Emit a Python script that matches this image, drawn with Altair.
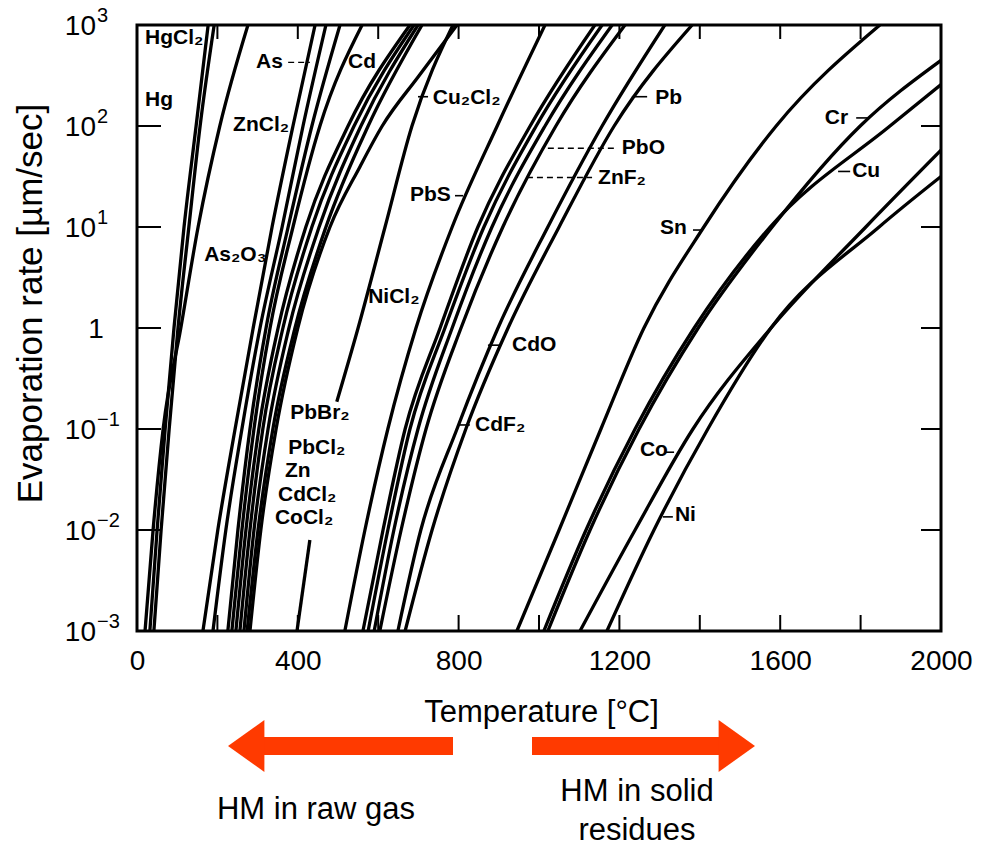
import altair as alt
import pandas as pd

# ---------------- data ----------------
# exponent of the evaporation rate (10^n µm/sec) at which the temperatures are read
LEVELS = [-3, -2, -1, 0, 1, 2, 3]

# temperatures [°C] at each decade level
HG_T = [32, 50, 70, 92, 117, 147, 177]
HGCL2_T = [42, 60, 80, 102, 129, 157, 192]
L3_T = [20, 40, 65, 109, 152, 206, 276]
AS2O3_T = [164, 201, 244, 289, 336, 388, 443]
ZNCL2_T = [189, 221, 261, 306, 361, 413, 470]
AS_T = [226, 251, 281, 321, 376, 435, 505]
CD_T = [236, 261, 291, 331, 388, 455, 560]
PBBR2_T = [246, 271, 303, 351, 420, 525, 679]
COCL2_T = [256, 281, 313, 363, 435, 540, 689]
PBCL2_T = [266, 291, 326, 378, 453, 557, 699]
CDCL2_T = [274, 301, 338, 393, 470, 575, 709]
PBS_T = [517, 567, 624, 694, 784, 896, 1015]
CU2CL2_T = [562, 612, 667, 754, 848, 978, 1139]
CDF2_T = [575, 624, 679, 766, 863, 993, 1157]
PBO_T = [590, 639, 699, 784, 883, 1015, 1182]
ZNF2_T = [604, 657, 719, 806, 910, 1042, 1214]
CDO_T = [649, 706, 796, 898, 1022, 1157, 1313]
PB_T = [667, 734, 818, 923, 1050, 1187, 1381]
SN_T = [945, 1050, 1154, 1261, 1410, 1590, 1848]

# Zn leaves the band and bends away at high rates
ZN_T = [281, 308, 346, 400, 480, 555, 610, 702, 796]
ZN_E = [-3, -2, -1, 0, 1, 1.6, 2, 2.5, 3]

# NiCl2 is interrupted behind the labels
NICL2_LO_T = [398, 430]
NICL2_LO_E = [-3, -2.1]
NICL2_HI_T = [497, 550, 617, 684, 786]
NICL2_HI_E = [-0.73, 0, 1, 2, 3]

# curves that leave the plot through the right edge (T = 2000 °C)
CR_T = [1022, 1127, 1249, 1396, 1580, 1799, 2000]
CR_E = [-3, -2, -1, 0, 1, 2, 2.65]
CU_T = [1012, 1117, 1239, 1386, 1575, 1873, 2000]
CU_E = [-3, -2, -1, 0, 1, 2, 2.41]
CO_T = [1102, 1239, 1383, 1577, 1813, 2000]
CO_E = [-3, -2, -1, 0, 1, 1.76]
NI_T = [1169, 1286, 1420, 1577, 1846, 2000]
NI_E = [-3, -2, -1, 0, 1, 1.50]

# curve labels: text, temperature, exponent of the rate
LABEL_TEXT = ["HgCl₂", "Hg", "As", "Cd", "ZnCl₂", "Cu₂Cl₂", "PbS", "As₂O₃", "NiCl₂",
              "Pb", "PbO", "ZnF₂", "Sn", "CdO", "CdF₂", "PbBr₂", "PbCl₂", "Zn",
              "CdCl₂", "CoCl₂", "Co", "Ni", "Cr", "Cu"]
LABEL_T = [20, 20, 296, 525, 239, 736, 679, 167, 575,
           1289, 1206, 1147, 1301, 933, 841, 381, 376, 368,
           351, 343, 1251, 1338, 1711, 1779]
LABEL_E = [2.87, 2.26, 2.63, 2.63, 2.01, 2.28, 1.32, 0.72, 0.31,
           2.28, 1.78, 1.49, 0.99, -0.17, -0.96, -0.84, -1.19, -1.42,
           -1.65, -1.88, -1.21, -1.85, 2.08, 1.55]

# short leader ticks next to labels
LEAD_T1 = [791, 699, 1231, 873, 803, 1789, 1744, 1308, 1316, 1383]
LEAD_T2 = [811, 724, 1269, 903, 828, 1818, 1774, 1333, 1336, 1408]
LEAD_E = [1.31, 2.29, 2.29, -0.17, -0.96, 2.08, 1.55, -1.87, -1.23, 0.97]
# dashed leaders (As, PbO, ZnF2)
DASH_T1 = [376, 1022, 970]
DASH_T2 = [430, 1189, 1132]
DASH_E = [2.63, 1.78, 1.49]

X_TICKS = [0, 400, 800, 1200, 1600, 2000]
X_MINOR = [200, 400, 600, 800, 1000, 1200, 1400, 1600, 1800]
Y_INNER = [1e-2, 1e-1, 1, 10, 100]
# y tick labels written as 10 with a raised exponent
Y_EXP = [3, 2, 1, -1, -2, -3]
Y_EXP_TEXT = ["3", "2", "1", "−1", "−2", "−3"]

# ---------------- build tables ----------------
curves = [
    ("Hg", HG_T, LEVELS), ("HgCl2", HGCL2_T, LEVELS), ("L3", L3_T, LEVELS),
    ("As2O3", AS2O3_T, LEVELS), ("ZnCl2", ZNCL2_T, LEVELS), ("As", AS_T, LEVELS),
    ("Cd", CD_T, LEVELS), ("PbBr2", PBBR2_T, LEVELS), ("CoCl2", COCL2_T, LEVELS),
    ("PbCl2", PBCL2_T, LEVELS), ("CdCl2", CDCL2_T, LEVELS), ("Zn", ZN_T, ZN_E),
    ("PbS", PBS_T, LEVELS), ("Cu2Cl2", CU2CL2_T, LEVELS), ("CdF2", CDF2_T, LEVELS),
    ("PbO", PBO_T, LEVELS), ("ZnF2", ZNF2_T, LEVELS), ("CdO", CDO_T, LEVELS),
    ("Pb", PB_T, LEVELS), ("Sn", SN_T, LEVELS),
    ("NiCl2_lo", NICL2_LO_T, NICL2_LO_E), ("NiCl2_hi", NICL2_HI_T, NICL2_HI_E),
    ("Cr", CR_T, CR_E), ("Cu", CU_T, CU_E), ("Co", CO_T, CO_E), ("Ni", NI_T, NI_E),
]
rows = []
for name, ts, es in curves:
    for t, e in zip(ts, es):
        rows.append({"curve": name, "T": t, "rate": 10.0 ** e})
df = pd.DataFrame(rows)

labels = pd.DataFrame({"text": LABEL_TEXT, "T": LABEL_T,
                       "rate": [10.0 ** e for e in LABEL_E]})
leads = pd.DataFrame({"T": LEAD_T1, "T2": LEAD_T2, "rate": [10.0 ** e for e in LEAD_E]})
dashes = pd.DataFrame({"T": DASH_T1, "T2": DASH_T2, "rate": [10.0 ** e for e in DASH_E]})
ylab = pd.DataFrame({"rate": [10.0 ** e for e in Y_EXP], "exp": Y_EXP_TEXT})

W, H = 804, 606
ORANGE = "#FF3A00"
SANS = "Liberation Sans, DejaVu Sans, sans-serif"

xs = alt.Scale(domain=[0, 2000], nice=False, zero=False)
ys = alt.Scale(type="log", domain=[1e-3, 1e3], nice=False)

X_AX = alt.Axis(
    values=X_TICKS, tickSize=0, domain=False, grid=False, format="d",
    labelFont=SANS, labelFontSize=28, labelPadding=16, labelColor="black",
    labelFlush=False,
    title="Temperature [°C]", titleFont=SANS, titleFontSize=31,
    titleFontWeight="normal", titleColor="black",
    titleX=404, titleY=81, titleBaseline="middle", titleAlign="center")
Y_AX = alt.Axis(
    values=[1e-3, 1e3], tickSize=0, domain=False, grid=False, labels=False,
    title="Evaporation rate [µm/sec]", titleFont=SANS, titleFontSize=35,
    titleFontWeight="normal", titleColor="black", titleAngle=-90,
    titleX=-107, titleY=278, titleBaseline="middle", titleAlign="center")

X = lambda f="T:Q": alt.X(f, scale=xs, axis=X_AX)
Y = lambda f="rate:Q": alt.Y(f, scale=ys, axis=Y_AX)

lines = alt.Chart(df).mark_line(
    color="black", strokeWidth=3.3, interpolate="monotone", clip=True
).encode(x=X(), y=Y(), detail="curve:N")

tick_df = pd.DataFrame({"T": X_MINOR})
ytick_df = pd.DataFrame({"rate": Y_INNER})
bottom_ticks = alt.Chart(tick_df).mark_rule(color="black", strokeWidth=2).encode(
    x=X(), y=alt.value(H - 16), y2=alt.value(H))
top_ticks = alt.Chart(tick_df).mark_rule(color="black", strokeWidth=2).encode(
    x=X(), y=alt.value(0), y2=alt.value(14))
left_ticks = alt.Chart(ytick_df).mark_rule(color="black", strokeWidth=2).encode(
    y=Y(), x=alt.value(0), x2=alt.value(24))
right_ticks = alt.Chart(ytick_df).mark_rule(color="black", strokeWidth=2).encode(
    y=Y(), x=alt.value(W - 20), x2=alt.value(W))

# y tick labels: "10" + raised exponent, and a plain "1"
ten = alt.Chart(ylab).mark_text(
    font=SANS, fontSize=28, align="right", baseline="middle", color="black", dy=2
).encode(y=Y(), x=alt.value(-41), text=alt.value("10"))
expo = alt.Chart(ylab).mark_text(
    font=SANS, fontSize=20, align="left", baseline="middle", color="black", dy=-9
).encode(y=Y(), x=alt.value(-40), text="exp:N")
one_lab = alt.Chart(pd.DataFrame({"rate": [1.0]})).mark_text(
    font=SANS, fontSize=28, align="center", baseline="middle", color="black", dy=2
).encode(y=Y(), x=alt.value(-41), text=alt.value("1"))

text_layer = alt.Chart(labels).mark_text(
    align="left", baseline="middle", font=SANS, fontSize=21, fontWeight="bold",
    color="black"
).encode(x=X(), y=Y(), text="text:N")

lead_layer = alt.Chart(leads).mark_rule(color="black", strokeWidth=1.6).encode(
    x=X(), x2="T2:Q", y=Y())
dash_layer = alt.Chart(dashes).mark_rule(
    color="black", strokeWidth=1.4, strokeDash=[6, 4]).encode(
    x=X(), x2="T2:Q", y=Y())

frame = alt.Chart(pd.DataFrame({"k": [0]})).mark_rect(
    fill=None, stroke="black", strokeWidth=3).encode(
    x=alt.value(0), x2=alt.value(W), y=alt.value(0), y2=alt.value(H))

one = pd.DataFrame({"k": [0]})
shaft_l = alt.Chart(one).mark_rule(color=ORANGE, strokeWidth=18, strokeCap="butt").encode(
    x=alt.value(125), x2=alt.value(316), y=alt.value(721))
shaft_r = alt.Chart(one).mark_rule(color=ORANGE, strokeWidth=18, strokeCap="butt").encode(
    x=alt.value(395), x2=alt.value(584), y=alt.value(721))
head_l = alt.Chart(one).mark_point(
    shape="M -1 0 L 0.4 -1 L 0.4 1 Z", filled=True, size=2704, color=ORANGE,
    opacity=1, strokeWidth=0).encode(x=alt.value(117), y=alt.value(721))
head_r = alt.Chart(one).mark_point(
    shape="M 1 0 L -0.4 -1 L -0.4 1 Z", filled=True, size=2704, color=ORANGE,
    opacity=1, strokeWidth=0).encode(x=alt.value(592), y=alt.value(721))
txt_l = alt.Chart(one).mark_text(
    font=SANS, fontSize=31, align="center", baseline="middle", color="black").encode(
    x=alt.value(179), y=alt.value(785), text=alt.value("HM in raw gas"))
txt_r = alt.Chart(one).mark_text(
    font=SANS, fontSize=31, align="center", baseline="top", color="black",
    lineHeight=39).encode(
    x=alt.value(500), y=alt.value(752), text=alt.value(["HM in solid", "residues"]))

chart = alt.layer(
    lines, bottom_ticks, top_ticks, left_ticks, right_ticks,
    ten, expo, one_lab,
    lead_layer, dash_layer, text_layer, frame,
    shaft_l, shaft_r, head_l, head_r, txt_l, txt_r,
).properties(
    width=W, height=H, background="white",
    autosize=alt.AutoSizeParams(type="none"),
    padding={"left": 137, "top": 25, "right": 49, "bottom": 219},
).configure_view(stroke=None)

chart.save("out.html", embed_options={"renderer": "svg", "actions": False})
